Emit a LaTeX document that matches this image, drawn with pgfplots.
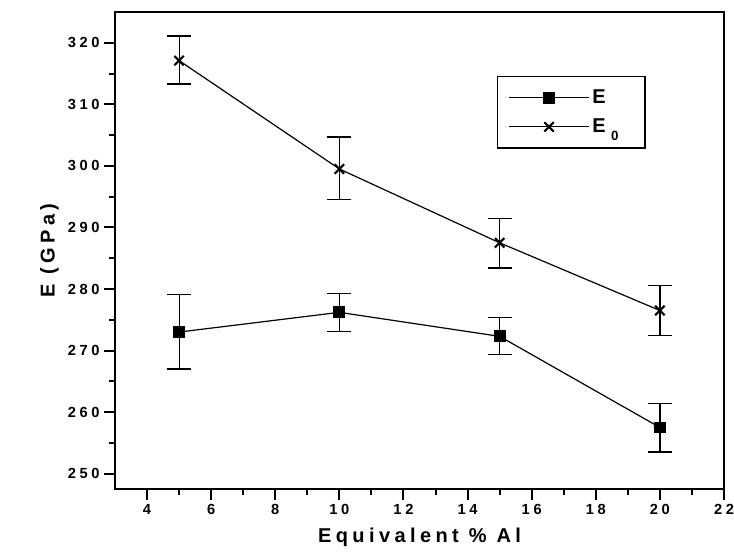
\documentclass[border=0pt]{standalone}
\usepackage{fontspec}
\setmainfont{Liberation Sans}
\newfontfamily\tickf{Liberation Sans}[LetterSpace=25]
\newfontfamily\labf{Liberation Sans}[LetterSpace=22]
\usepackage{pgfplots}
\pgfplotsset{compat=1.18}

\begin{document}
\begin{tikzpicture}
\begin{axis}[
  at={(0,0)}, anchor=south west,
  scale only axis, width=456.75pt, height=357.75pt,
  xmin=3, xmax=22, ymin=247.5, ymax=325,
  xtick={4,6,...,22}, ytick={250,260,...,320},
  minor x tick num=1, minor y tick num=1,
  tick align=outside, xtick pos=left, ytick pos=left,
  major tick length=8pt, minor tick length=4.5pt,
  axis line style={line width=2pt},
  every tick/.style={black, line width=1.5pt},
  /pgf/number format/assume math mode=true,
  ticklabel style={font=\tickf\bfseries\fontsize{11}{13}\selectfont},
  label style={font=\labf\bfseries\fontsize{15}{18}\selectfont},
  xlabel={Equivalent \% Al}, ylabel={E (GPa)},
  xlabel style={yshift=-3pt},
  legend style={at={(0.6275,0.866)}, anchor=north west, draw=black,
    line width=1pt, inner xsep=8pt, inner ysep=8pt,
    font=\labf\bfseries\fontsize{15}{17}\selectfont,
    row sep=6pt},
  legend cell align=left,
  legend image code/.code={
    \draw[#1, mark repeat=2, mark phase=2]
      plot coordinates {(0pt,0pt) (30pt,0pt) (60pt,0pt)};
  },
]
\addplot[black, line width=0.9pt, mark=square*, mark size=4pt,
  error bars/.cd, y dir=both, y explicit, error mark=-,
  error mark options={rotate=90, mark size=9pt, line width=0.9pt},
  error bar style={line width=0.9pt}]
  coordinates {
    (5,273.0)  += (0,6.1) -= (0,6.0)
    (10,276.2) += (0,3.0) -= (0,3.1)
    (15,272.3) += (0,3.0) -= (0,2.9)
    (20,257.5) += (0,3.9) -= (0,4.0)
  };
\addlegendentry{E}
\addplot[black, line width=0.9pt, mark=x, mark size=5pt,
  mark options={line width=1.6pt},
  error bars/.cd, y dir=both, y explicit, error mark=-,
  error mark options={rotate=90, mark size=9pt, line width=0.9pt},
  error bar style={line width=0.9pt}]
  coordinates {
    (5,317.1)  += (0,4.0) -= (0,3.8)
    (10,299.5) += (0,5.2) -= (0,5.0)
    (15,287.5) += (0,3.9) -= (0,4.1)
    (20,276.5) += (0,4.1) -= (0,4.0)
  };
\addlegendentry{E\hspace{4pt}\raisebox{-0.7ex}{\fontsize{10}{11}\selectfont 0}\rule{10pt}{0pt}}
\end{axis}
\pgfresetboundingbox
\path (-86.25pt,-48pt) rectangle (464.25pt,366.75pt);
\end{tikzpicture}
\end{document}
